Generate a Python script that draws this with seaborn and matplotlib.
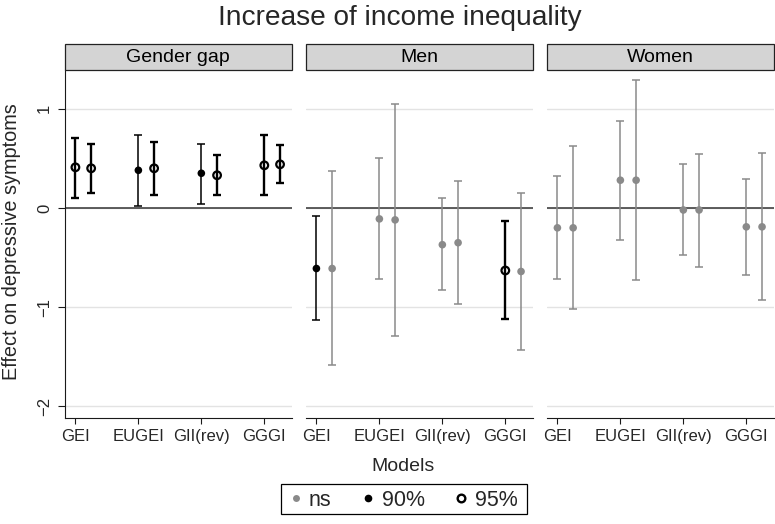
import numpy as np
import pandas as pd
import matplotlib
matplotlib.use("Agg")
import matplotlib.pyplot as plt
from matplotlib.patches import Rectangle
from matplotlib.lines import Line2D
import seaborn as sns

# ---- data -------------------------------------------------------------
panels = ["Gender gap", "Men", "Women"]
models = ["GEI", "EUGEI", "GII(rev)", "GGGI"]
# two specifications per model (first / second), ordered model by model
spec_offset = [0.0, 0.25]

gap_est = [0.41, 0.40, 0.38, 0.40, 0.35, 0.33, 0.43, 0.44]
gap_lo = [0.10, 0.15, 0.02, 0.13, 0.04, 0.13, 0.13, 0.25]
gap_hi = [0.71, 0.65, 0.74, 0.67, 0.65, 0.53, 0.74, 0.64]
gap_sig = ["95%", "95%", "90%", "95%", "90%", "95%", "95%", "95%"]

men_est = [-0.61, -0.61, -0.11, -0.12, -0.37, -0.35, -0.63, -0.64]
men_lo = [-1.13, -1.58, -0.72, -1.29, -0.83, -0.97, -1.12, -1.43]
men_hi = [-0.08, 0.37, 0.50, 1.05, 0.10, 0.27, -0.13, 0.155]
men_sig = ["90%", "ns", "ns", "ns", "ns", "ns", "95%", "ns"]

women_est = [-0.20, -0.20, 0.28, 0.28, -0.02, -0.02, -0.19, -0.19]
women_lo = [-0.72, -1.02, -0.32, -0.73, -0.47, -0.59, -0.68, -0.93]
women_hi = [0.32, 0.62, 0.88, 1.29, 0.44, 0.54, 0.29, 0.55]
women_sig = ["ns"] * 8

yticks = [-2, -1, 0, 1]

# ---- tidy table -------------------------------------------------------
rows = []
for panel, est, lo, hi, sig in [
    ("Gender gap", gap_est, gap_lo, gap_hi, gap_sig),
    ("Men", men_est, men_lo, men_hi, men_sig),
    ("Women", women_est, women_lo, women_hi, women_sig),
]:
    for k in range(len(est)):
        m, s = divmod(k, 2)
        rows.append(dict(panel=panel, model=models[m], spec=s,
                         x=m + spec_offset[s], est=est[k], lo=lo[k],
                         hi=hi[k], sig=sig[k]))
df = pd.DataFrame(rows)

# ---- styling ----------------------------------------------------------
sns.set_theme(style="white")
plt.rcParams["font.family"] = ["Liberation Sans", "DejaVu Sans"]

grey = "#8a8a8a"
ink = "#1a1a1a"
styles = {
    "ns": dict(color=grey, lw=1.1, cap=2.6, fc=grey, ec="none", s=30, mlw=0),
    "90%": dict(color="black", lw=1.1, cap=2.6, fc="black", ec="none", s=30, mlw=0),
    "95%": dict(color="black", lw=1.7, cap=3.0, fc="none", ec="black", s=30, mlw=1.6),
}

W, H = 775, 524
fig = plt.figure(figsize=(W / 100, H / 100), dpi=100)

lefts = [64.7, 305.7, 546.7]
pw = 227.0
top_px, bot_px = 70.0, 417.7
strip_h = 25.7
ph = bot_px - top_px

for i, panel in enumerate(panels):
    ax = fig.add_axes([lefts[i] / W, 1 - bot_px / H, pw / W, ph / H])
    sub = df[df.panel == panel]

    for lvl, st in styles.items():
        part = sub[sub.sig == lvl]
        if part.empty:
            continue
        ax.errorbar(part.x, part.est,
                    yerr=[part.est - part.lo, part.hi - part.est],
                    fmt="none", ecolor=st["color"], elinewidth=st["lw"],
                    capsize=st["cap"], capthick=st["lw"], zorder=2)
        sns.scatterplot(data=part, x="x", y="est", ax=ax, marker="o",
                        s=st["s"], facecolors=st["fc"], edgecolor=st["ec"],
                        linewidth=st["mlw"], zorder=3, legend=False)

    ax.set_xlim(-0.17, 3.435)
    ax.set_ylim(-2.114, 1.391)
    ax.set_xticks(range(len(models)))
    ax.set_xticklabels(models)
    ax.set_yticks(yticks)
    ax.set_xlabel("")
    ax.set_ylabel("")

    ax.grid(axis="y", color="#e3e3e3", lw=1.0, zorder=0)
    ax.grid(axis="x", visible=False)
    ax.axhline(0, color="#333333", lw=1.1, zorder=1)

    for side in ["top", "right"]:
        ax.spines[side].set_visible(False)
    ax.spines["bottom"].set_color(ink)
    ax.spines["bottom"].set_linewidth(0.8)
    if i == 0:
        ax.spines["left"].set_color(ink)
        ax.spines["left"].set_linewidth(0.8)
        ax.tick_params(axis="y", left=True, length=5, width=0.8, color=ink,
                       labelsize=12, pad=4, labelrotation=90)
        for lab in ax.get_yticklabels():
            lab.set_va("center")
    else:
        ax.spines["left"].set_visible(False)
        ax.tick_params(axis="y", left=False, labelleft=False)
    ax.tick_params(axis="x", bottom=True, length=4.5, width=0.8, color=ink,
                   labelsize=12, pad=3.5)

    # facet header
    ax.add_patch(Rectangle((0, 1), 1, strip_h / ph, transform=ax.transAxes,
                           facecolor="#d4d4d4", edgecolor="#222222",
                           lw=0.9, clip_on=False, zorder=5))
    ax.text(0.5, 1 + (top_px - 61.7) / ph, panel, transform=ax.transAxes,
            ha="center", va="baseline", fontsize=14, color="black", zorder=6)

fig.text(400 / W, 1 - 25 / H, "Increase of income inequality",
         ha="center", va="baseline", fontsize=20.2)
fig.text(12 / W, 1 - 241.3 / H, "Effect on depressive symptoms",
         rotation=90, ha="center", va="center", fontsize=14.3)
fig.text(403.3 / W, 1 - 471 / H, "Models", ha="center", va="baseline",
         fontsize=14)

# legend: entries without frame, boxed by a plain rectangle
handles = [
    Line2D([], [], ls="none", marker="o", ms=5, mfc=grey, mec="none"),
    Line2D([], [], ls="none", marker="o", ms=5.5, mfc="black", mec="none"),
    Line2D([], [], ls="none", marker="o", ms=5.5, mfc="none", mec="black", mew=1.7),
]
leg = fig.legend(handles, ["ns", "90%", "95%"], loc="center",
                 bbox_to_anchor=(402 / W, 1 - 500 / H), ncol=3,
                 frameon=False, fontsize=15.5, handlelength=0.83,
                 handletextpad=0.2, columnspacing=1.3, borderpad=0.15,
                 borderaxespad=0)
fig.patches.append(Rectangle((281 / W, 1 - 514 / H), 246 / W, 30 / H,
                             transform=fig.transFigure, facecolor="none",
                             edgecolor="black", lw=0.9))

fig.savefig("out.png", dpi=100)
